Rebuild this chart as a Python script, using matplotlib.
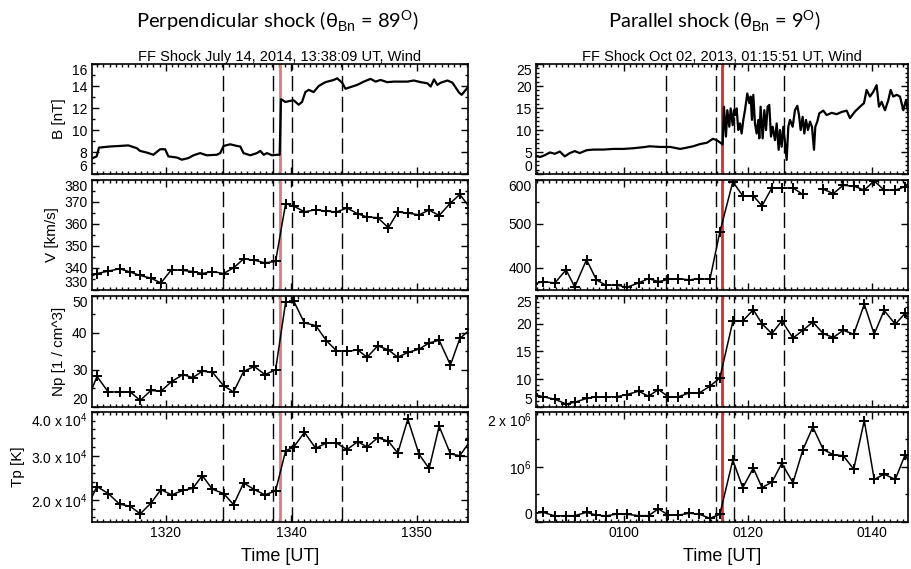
import numpy as np
import matplotlib.pyplot as plt
from matplotlib.ticker import MultipleLocator, FixedLocator, FixedFormatter

plt.rcParams['font.family'] = ['Liberation Sans', 'DejaVu Sans']
plt.rcParams['mathtext.fontset'] = 'custom'
plt.rcParams['mathtext.rm'] = 'Liberation Sans'
plt.rcParams['mathtext.it'] = 'Liberation Sans:italic'

# ---- event times (minutes after the hour 13:00 / 00:00) ----
shock_left = 38.15      # 13:38:09
shock_right = 75.85     # 01:15:51
dash_offsets = [-9, -1, 2, 10]

# ---- left event: magnetic field (high resolution) ----
tB_left = [8.15, 8.95, 9.32, 11.08, 12.67, 14.0, 15.34, 15.87, 16.94, 18.0,
           19.07, 19.87, 20.4, 21.74, 22.54, 23.6, 24.4, 25.46, 26.53, 28.13,
           28.66, 29.2, 30.26, 31.33, 31.86, 32.39, 33.46, 34.53, 35.06, 35.6,
           36.13, 36.93, 37.73, 38.15, 38.36, 39.06, 39.86, 40.39, 41.18, 41.72,
           42.25, 42.78, 43.58, 44.38, 45.45, 46.78, 47.32, 48.12, 48.65, 49.45,
           50.52, 51.58, 52.65, 53.45, 54.25, 55.32, 56.38, 57.45, 58.52, 59.58,
           60.65, 61.72, 62.25, 62.78, 63.31, 63.85, 64.92, 65.72, 66.78, 67.2, 68.2]
B_left = [7.4, 7.6, 8.4, 8.5, 8.55, 8.6, 8.35, 8.1, 7.95, 7.75,
          8.25, 8.25, 7.6, 7.5, 7.3, 7.45, 7.7, 7.9, 7.7, 7.75,
          7.9, 8.55, 8.7, 8.55, 8.5, 7.9, 7.7, 7.9, 8.1, 7.75,
          7.9, 7.7, 7.75, 7.75, 12.8, 12.55, 12.65, 12.7, 12.3, 12.55,
          13.45, 13.65, 13.45, 14.0, 14.35, 14.55, 14.7, 14.3, 13.75, 13.9,
          14.1, 14.4, 14.65, 14.4, 14.55, 14.35, 14.4, 14.4, 14.4, 14.5,
          14.35, 14.25, 13.95, 14.6, 14.1, 14.3, 14.5, 14.3, 13.4, 13.2, 13.9]

# ---- left event: plasma ----
tP_left = [7.3, 9.0, 10.8, 12.6, 14.3, 15.9, 17.6, 19.2, 20.9, 22.7, 24.3,
           25.8, 27.4, 29.2, 30.8, 32.4, 34.1, 35.8, 37.5, 39.1, 40.4,
           42.1, 43.9, 45.6, 47.2, 48.9, 50.6, 52.1, 53.8, 55.5, 57.0,
           58.6, 60.4, 62.0, 63.6, 65.4, 66.9, 68.6]
V_left = [335, 337.3, 338.4, 339.5, 338.0, 336.4, 335.2, 333.0, 339.1, 338.7, 338.2,
          337.3, 338.2, 337.3, 339.9, 344.0, 343.4, 342.2, 342.8, 369.2, 368.1,
          365.5, 366.4, 365.8, 365.4, 367.2, 364.6, 363.1, 362.8, 358.2, 365.4,
          364.9, 364.1, 366.3, 363.8, 369.5, 373.4, 367]
Np_left = [21, 28.2, 24.0, 24.0, 24.0, 21.7, 24.4, 24.2, 26.8, 28.7, 27.9,
           29.6, 29.4, 25.7, 24.0, 29.6, 30.9, 28.7, 30.0, 48.3, 48.6,
           42.7, 42.0, 37.9, 35.2, 35.0, 35.4, 33.4, 36.5, 35.4, 33.4,
           34.7, 35.6, 37.3, 38.0, 31.3, 38.5, 41]
Tp_left = [1.8, 2.30, 2.14, 1.90, 1.85, 1.68, 1.92, 2.23, 2.11, 2.21, 2.26,
           2.55, 2.24, 2.14, 1.89, 2.38, 2.23, 2.11, 2.20, 3.11, 3.20,
           3.53, 3.17, 3.29, 3.29, 3.14, 3.32, 3.20, 3.41, 3.33, 3.06,
           3.83, 3.03, 2.71, 3.67, 3.04, 3.00, 3.35]   # x 1e4 K

# ---- right event: magnetic field ----
tB_right = [45.85, 46.5, 47.3, 48.1, 48.9, 49.7, 50.5, 51.3, 52.1, 52.9,
            54.0, 55.1, 56.7, 58.3, 59.9, 61.5, 63.2, 64.2, 65.85, 67.5,
            69.1, 70.2, 71.2, 72.3, 73.4, 74.4, 75.0, 75.5, 75.96,
            76.17, 76.49, 76.71, 77.03, 77.25, 77.57, 77.78, 78.0, 78.21, 78.48,
            78.75, 79.02, 79.29, 79.56, 79.93, 80.26, 80.47, 80.69, 80.90, 81.17,
            81.44, 81.71, 81.87, 82.08, 82.41, 82.68, 82.95, 83.21, 83.48, 83.75,
            84.02, 84.40, 84.67, 84.99, 85.20, 85.47, 85.74, 86.01, 86.28, 86.55,
            86.82, 87.25, 87.62, 88.0, 88.27, 88.54, 88.86, 89.13, 89.40, 89.72,
            90.04, 90.36, 90.69, 90.90, 91.22, 91.55, 92.19, 92.73, 93.54, 94.34,
            95.15, 95.96, 96.49, 97.30, 98.11, 98.75, 99.18, 99.72, 100.26, 100.79,
            101.17, 101.60, 102.14, 102.68, 103.05, 103.48, 104.02, 104.56, 105.10, 105.53,
            105.91, 106.49]
B_right = [4.15, 3.85, 4.3, 4.9, 4.6, 5.1, 4.0, 4.75, 5.2, 4.75,
           5.4, 5.55, 5.55, 5.7, 5.7, 5.85, 6.1, 6.3, 6.15, 6.15,
           5.7, 6.0, 6.3, 6.8, 7.1, 8.0, 7.7, 7.2, 6.7,
           15.3, 8.5, 14.5, 10.75, 14.9, 11.1, 14.5, 13.4, 14.9, 10.0,
           11.5, 9.2, 12.3, 14.5, 18.3, 16.1, 17.6, 12.3, 18.0, 11.5,
           9.2, 12.3, 8.1, 15.3, 8.1, 14.5, 10.0, 15.3, 15.7, 8.5,
           10.75, 7.7, 11.5, 5.5, 10, 6.2, 10.75, 7.3, 3.2, 10.75,
           12.3, 10.75, 14.5, 15.5, 13.4, 10.0, 13.0, 9.2, 12.3, 10.0,
           11.9, 10.75, 5.5, 10.75, 11.9, 13.8, 14.4, 13.4, 13.9, 13.6,
           14.1, 14.4, 12.7, 14.2, 15.3, 16.1, 19.1, 17.6, 18.7, 20.2,
           15.3, 16.4, 14.5, 16.8, 19.1, 17.6, 18.0, 17.6, 14.5, 16.8,
           13.8, 10.75]

# ---- right event: plasma ----
tP_right = [45.3, 47.0, 48.9, 50.7, 52.1, 54.0, 55.6, 57.1, 58.9, 60.5, 62.4,
            64.0, 65.6, 67.2, 68.8, 70.6, 72.2, 73.9, 75.5, 77.6, 79.2,
            80.9, 82.3, 83.9, 85.5, 87.3, 88.9, 90.5, 92.2, 93.8, 95.4,
            97.1, 98.8, 100.4, 102.0, 103.8, 105.4, 107.0]
V_right = [362, 368, 365, 395, 356, 418, 372, 360, 360, 355, 365,
           375, 368, 373, 375, 372, 375, 373, 481, 596, 564,
           564, 541, 582, 582, 582, 567, np.nan, 579, 569, 588,
           586, 577, 598, 577, 577, 585, 610]
Np_right = [7.3, 6.8, 6.35, 5.5, 5.8, 6.5, 6.8, 6.8, 6.8, 7.2, 7.8,
            6.9, 8.1, 6.8, 6.8, 7.5, 7.5, 8.7, 10.2, 20.4, 20.5,
            22.5, 20.0, 18.2, 20.5, 17.4, 18.8, 20.3, 18.2, 17.5, 18.8,
            18.1, 23.5, 18.1, 22.4, 19.9, 21.9, 18]
Tp_right = [0.15, 0.17, 0.105, 0.11, 0.11, 0.17, 0.12, 0.105, 0.14, 0.136, 0.11,
            0.11, 0.235, 0.12, 0.12, 0.154, 0.136, 0.062, 0.136, 1.12, 0.62,
            0.975, 0.62, 0.72, 1.06, 0.71, 1.31, 1.72, 1.31, 1.22, 1.20,
            0.957, 1.84, 0.77, 0.864, 0.77, 1.22, 0.85]   # x 1e6 K

titles = ['Perpendicular shock (θ$_{\\mathrm{Bn}}$ = 89$^{\\mathrm{O}}$)',
          'Parallel shock (θ$_{\\mathrm{Bn}}$ = 9$^{\\mathrm{O}}$)']
subtitles = ['FF Shock July 14, 2014, 13:38:09 UT, Wind',
             'FF Shock Oct 02, 2013, 01:15:51 UT, Wind']
ylabels = ['B [nT]', 'V [km/s]', 'Np [1 / cm^3]', 'Tp [K]']


def style(ax):
    ax.tick_params(which='both', direction='in', top=True, right=True,
                   labelsize=10, width=1, pad=3)
    ax.tick_params(which='major', length=5)
    ax.tick_params(which='minor', length=2.5)
    for s in ax.spines.values():
        s.set_linewidth(1.2)


def edge_labels(ax):
    # IDL style: end labels sit inside the frame height
    lo, hi = ax.get_ylim()
    locs = ax.yaxis.get_majorticklocs()
    ticks = ax.yaxis.get_major_ticks(len(locs))
    span = hi - lo
    for loc, tk in zip(locs, ticks):
        if abs(loc - lo) < 1e-6 * span:
            tk.label1.set_va('bottom')
        elif abs(loc - hi) < 1e-6 * span:
            tk.label1.set_va('top')


fig = plt.figure(figsize=(9.12, 5.69), dpi=100)
lefts = [0.1005, 0.5877]
widths = [0.4123, 0.4079]
bottoms = [0.6942, 0.4912, 0.2852, 0.0831]
heights = [0.1933, 0.1924, 0.1946, 0.1933]

red = ['#e07b7b', '#d62d2d']
dash = (0, (11, 4))

for col in range(2):
    shock = [shock_left, shock_right][col]
    tB = [tB_left, tB_right][col]
    Bv = [B_left, B_right][col]
    tP = [tP_left, tP_right][col]
    plasma = [[V_left, Np_left, np.array(Tp_left) * 1e4],
              [V_right, Np_right, np.array(Tp_right) * 1e6]][col]
    axes = []
    for row in range(4):
        ax = fig.add_axes([lefts[col], bottoms[row], widths[col], heights[row]])
        style(ax)
        axes.append(ax)
        if row == 0:
            ax.plot(tB, Bv, color='k', lw=1.6, zorder=3)
        else:
            ax.plot(tP, plasma[row - 1], color='k', lw=1.1, marker='+',
                    ms=7, mew=1.4, zorder=3)
        for d in dash_offsets:
            ax.axvline(shock + d, color='k', lw=1, ls=dash, zorder=2)
        ax.axvline(shock, color=red[col], lw=2, zorder=2.5)
        ax.set_xlim(shock - 30, shock + 30)
        ax.xaxis.set_minor_locator(MultipleLocator(1))
        if col == 0:
            ax.set_ylabel(ylabels[row], fontsize=11)
        if row < 3:
            ax.tick_params(labelbottom=False)

    if col == 0:
        axes[0].set_ylim(6, 16)
        axes[0].yaxis.set_major_locator(MultipleLocator(2))
        axes[0].yaxis.set_minor_locator(MultipleLocator(1))
        axes[1].set_ylim(330, 380)
        axes[1].yaxis.set_major_locator(MultipleLocator(10))
        axes[1].yaxis.set_minor_locator(MultipleLocator(5))
        axes[2].set_ylim(20, 50)
        axes[2].yaxis.set_major_locator(MultipleLocator(10))
        axes[2].yaxis.set_minor_locator(MultipleLocator(5))
        axes[3].set_ylim(1.5e4, 4.0e4)
        axes[3].yaxis.set_major_locator(FixedLocator([2e4, 3e4, 4e4]))
        axes[3].yaxis.set_major_formatter(FixedFormatter(
            ['2.0 x 10$^4$', '3.0 x 10$^4$', '4.0 x 10$^4$']))
        axes[3].yaxis.set_minor_locator(MultipleLocator(2000))
        axes[3].xaxis.set_major_locator(FixedLocator([20, 40, 60]))
        axes[3].xaxis.set_major_formatter(FixedFormatter(['1320', '1340', '1350']))
    else:
        axes[0].set_ylim(0, 25)
        axes[0].yaxis.set_major_locator(MultipleLocator(5))
        axes[0].yaxis.set_minor_locator(MultipleLocator(1))
        axes[1].set_ylim(350, 600)
        axes[1].yaxis.set_major_locator(FixedLocator([400, 500, 600]))
        axes[1].yaxis.set_minor_locator(MultipleLocator(50))
        axes[2].set_ylim(5, 25)
        axes[2].yaxis.set_major_locator(MultipleLocator(5))
        axes[2].yaxis.set_minor_locator(MultipleLocator(1))
        axes[3].set_ylim(0, 2e6)
        axes[3].yaxis.set_major_locator(FixedLocator([0, 1e6, 2e6]))
        axes[3].yaxis.set_major_formatter(FixedFormatter(['0', '10$^6$', '2 x 10$^6$']))
        axes[3].yaxis.set_minor_locator(MultipleLocator(5e5))
        axes[3].xaxis.set_major_locator(FixedLocator([60, 80, 100]))
        axes[3].xaxis.set_major_formatter(FixedFormatter(['0100', '0120', '0140']))
    for ax in axes[:3]:
        ax.xaxis.set_major_locator(axes[3].xaxis.get_major_locator())
    for ax in axes:
        edge_labels(ax)

    axes[0].set_title(subtitles[col], fontsize=10.5, pad=2)
    axes[3].set_xlabel('Time [UT]', fontsize=13, labelpad=6)

fig.text(0.304, 0.962, titles[0], ha='center', va='center', fontsize=14.5, family='Lato')
fig.text(0.783, 0.962, titles[1], ha='center', va='center', fontsize=14.5, family='Lato')

fig.savefig('out.png', dpi=100)
